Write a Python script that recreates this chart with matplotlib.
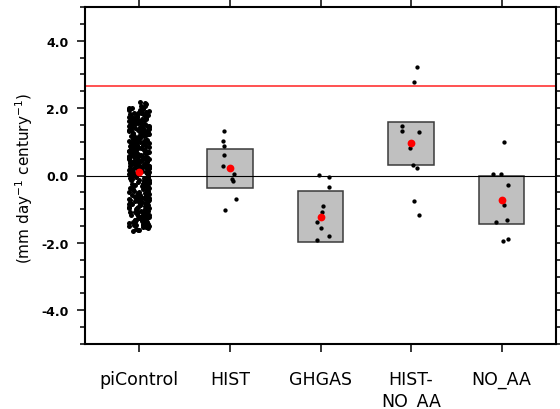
import numpy as np
import matplotlib
matplotlib.use('Agg')
import matplotlib.pyplot as plt
from matplotlib.ticker import MultipleLocator, FormatStrFormatter

plt.rcParams['font.family'] = ['DejaVu Sans']
plt.rcParams['mathtext.default'] = 'regular'

# категорії
labels = ['piControl', 'HIST', 'GHGAS', 'HIST-\nNO_AA', 'NO_AA']

# тренди piControl (щільна хмара точок)
pic_y = [
    0.12, -0.85, 1.43, 0.57, -1.21, 1.96, -0.33, 0.84, 1.12, -0.62, 0.29, -1.48, 1.71, 0.03, -0.18, 0.95, 1.58, -1.02, 0.41, -0.74, 1.27, 2.05, -0.49, 0.66, -1.33,
    0.78, -0.07, 1.36, -1.57, 0.21, 1.84, -0.91, 0.49, -0.26, 1.05, -1.16, 0.37, 1.62, -0.58, 0.92, -1.39, 0.14, 1.19, -0.81, 0.63, 2.18, -0.41, 1.48, -1.08, 0.08,
    -0.66, 1.31, 0.26, -1.27, 0.71, 1.89, -0.13, 0.99, -0.95, 0.44, 1.67, -1.44, 0.17, -0.37, 1.22, 0.54, -0.71, 1.77, -1.12, 0.87, -0.23, 1.41, -1.61, 0.33, 1.08,
    0.47, -1.05, 1.14, -0.29, 1.93, 0.06, -0.78, 1.52, -1.36, 0.69, 0.22, -0.54, 1.29, -0.99, 0.81, 1.74, -0.16, 0.38, -1.23, 1.01, 2.11, -0.45, 0.59, -0.87, 1.38,
    -0.09, 0.93, -1.51, 1.59, 0.31, -0.68, 1.17, -0.34, 0.74, -1.19, 1.86, 0.11, -0.83, 1.44, 0.52, -1.31, 0.27, 1.69, -0.52, 0.89, -1.06, 1.24, 0.01, -0.39, 1.99,
    0.64, -1.41, 1.09, -0.19, 0.36, 1.53, -0.97, 0.77, -0.61, 1.33, -1.25, 0.19, 1.81, -0.44, 0.97, -1.14, 0.43, 1.64, -0.03, -0.76, 1.21, 0.58, -1.54, 0.86, 1.46,
    -0.31, 1.02, 0.24, -1.09, 1.79, -0.56, 0.51, 1.35, -0.89, 0.09, 1.56, -1.29, 0.72, -0.21, 1.11, 0.34, -0.72, 1.91, -1.46, 0.61, -0.11, 1.26, 0.83, -1.01, 0.16,
    1.49, -0.64, 0.39, -1.37, 1.16, 0.04, -0.47, 1.73, 0.68, -1.18, 0.91, -0.27, 1.39, -0.93, 0.28, 2.01, -0.59, 1.06, -1.42, 0.46, 0.79, -0.14, 1.61, -0.79, 0.18,
    -1.22, 0.56, 1.28, -0.36, 0.98, -1.63, 0.13, 1.66, -0.69, 0.42, -0.04, 1.87, -1.11, 0.73, 1.23, -0.51, 0.32, -0.86, 1.51, 0.07, -1.32, 1.04, 0.62, -0.24, 1.76,
    0.23, -0.96, 1.42, 0.67, -0.42, 1.13, -1.26, 0.48, 1.83, -0.12, 0.88, -0.73, 1.32, -1.49, 0.15, 0.94, -0.32, 1.57, -1.03, 0.53, 2.14, -0.63, 0.29, 1.18, -0.88,
    0.82, -0.17, 1.63, -1.34, 0.44, -0.53, 1.07, 0.26, -0.82, 1.47, -1.13, 0.61, 1.94, -0.38, 0.05, 1.25, -1.47, 0.76, -0.07, 1.39, -0.67, 0.35, 1.71, -1.20, 0.97,
    -0.46, 0.18, 1.54, -0.92, 0.71, -1.58, 1.19, 0.40, -0.22, 1.85, -0.77, 0.57, 1.03, -1.07, 0.11, 1.68, -0.57, 0.85, -1.38, 0.49, 1.36, -0.28, 0.02, 2.07, -1.66,
    0.35, -1.19, 0.96, -0.06, 1.65, -0.71, 0.55, 1.22, -1.43, 0.13, 1.88, -0.35, 0.75, -0.98, 1.45, 0.27, -0.55, 1.10, -1.24, 0.62, 1.78, -0.15, 0.91, -0.84, 0.44,
    1.34, -0.49, 0.08, -1.52, 1.01, 0.69, -0.25, 1.55, -0.90, 0.38, 1.97, -1.09, 0.20, -0.65, 1.30, 0.81, -1.30, 0.50, -0.02, 1.69, -0.78, 0.99, -1.40, 0.31, 1.16,
]
pic_dx = [
    0.03, -0.08, 0.11, -0.02, 0.06, -0.11, 0.09, -0.05, 0.01, 0.07, -0.10, 0.04, -0.06, 0.10, -0.01, 0.05, -0.09, 0.08, -0.03, 0.11, -0.07, 0.02, -0.11, 0.06, -0.04,
    -0.09, 0.05, -0.01, 0.10, -0.06, 0.02, 0.08, -0.11, 0.04, -0.03, 0.11, -0.08, 0.00, 0.07, -0.05, 0.09, -0.10, 0.03, 0.06, -0.02, 0.01, -0.07, 0.11, -0.04, 0.08,
    0.06, -0.11, 0.02, 0.09, -0.04, 0.07, -0.09, 0.01, 0.11, -0.06, 0.03, 0.10, -0.02, -0.08, 0.05, -0.11, 0.08, -0.03, 0.04, -0.10, 0.11, -0.05, 0.00, 0.07, -0.07,
    -0.03, 0.10, -0.07, 0.04, -0.11, 0.08, 0.01, -0.05, 0.06, -0.09, 0.11, -0.01, 0.09, -0.04, 0.02, -0.11, 0.05, -0.08, 0.11, -0.02, 0.07, -0.06, 0.03, 0.10, -0.10,
    0.08, -0.04, 0.11, -0.09, 0.00, 0.05, -0.06, 0.10, -0.11, 0.03, -0.01, 0.07, -0.10, 0.01, 0.09, -0.05, 0.11, -0.03, 0.06, -0.08, 0.02, 0.10, -0.07, 0.04, -0.11,
    -0.06, 0.09, -0.02, 0.11, -0.08, 0.03, -0.11, 0.06, -0.04, 0.08, 0.00, -0.10, 0.05, -0.07, 0.11, -0.03, 0.02, -0.09, 0.10, -0.05, 0.07, -0.11, 0.04, -0.01, 0.09,
    0.04, -0.11, 0.07, -0.05, 0.10, -0.02, 0.06, -0.09, 0.01, 0.11, -0.07, 0.03, -0.11, 0.08, -0.03, 0.05, -0.10, 0.11, -0.06, 0.02, -0.08, 0.09, -0.01, 0.06, -0.11,
    -0.10, 0.02, 0.08, -0.07, 0.05, -0.11, 0.10, -0.03, 0.07, -0.09, 0.04, -0.05, 0.11, -0.01, 0.06, -0.08, 0.01, 0.09, -0.11, 0.03, -0.04, 0.11, -0.06, 0.00, 0.10,
    0.01, -0.06, 0.10, -0.10, 0.07, -0.01, -0.08, 0.05, -0.11, 0.09, -0.04, 0.02, 0.08, -0.07, 0.11, -0.02, 0.06, -0.11, 0.03, 0.10, -0.05, 0.07, -0.09, 0.04, -0.03,
    0.11, -0.03, 0.04, -0.08, 0.09, -0.06, 0.02, 0.11, -0.10, 0.00, 0.07, -0.04, 0.05, -0.11, 0.10, -0.07, 0.03, -0.01, 0.08, -0.11, 0.06, -0.02, 0.11, -0.09, 0.01,
    -0.05, 0.07, -0.11, 0.03, -0.02, 0.10, -0.07, 0.04, 0.09, -0.11, 0.06, -0.03, 0.01, 0.11, -0.09, 0.08, -0.04, 0.05, -0.10, 0.02, 0.11, -0.06, 0.07, -0.01, -0.08,
    0.09, -0.01, 0.06, -0.11, 0.11, -0.04, 0.03, -0.09, 0.08, -0.06, 0.10, -0.02, 0.05, -0.10, 0.00, 0.07, -0.08, 0.11, -0.05, 0.04, -0.11, 0.09, -0.03, 0.06, -0.07,
    -0.02, 0.06, -0.09, 0.10, -0.05, 0.01, 0.08, -0.07, 0.04, -0.10, 0.02, 0.09, -0.04, 0.06, -0.08, 0.00, 0.11, -0.06, 0.03, -0.01, -0.09, 0.05, -0.03, 0.08, -0.10,
    0.05, 0.00, -0.06, 0.07, -0.03, 0.10, -0.08, 0.02, 0.06, -0.10, 0.04, -0.01, 0.09, -0.05, 0.01, -0.09, 0.07, -0.02, 0.10, -0.06, 0.03, -0.07, 0.08, -0.04, 0.00,
]

# окремі члени ансамблю
hist_y = [1.31, 1.03, 0.88, 0.60, 0.28, 0.04, -0.09, -0.16, -0.71, -1.01]
hist_dx = [-0.07, -0.08, -0.07, -0.06, -0.08, 0.04, 0.02, 0.03, 0.07, -0.05]
ghg_y = [0.02, -0.04, -0.34, -0.91, -1.09, -1.39, -1.55, -1.81, -1.90]
ghg_dx = [-0.02, 0.09, 0.09, 0.03, 0.02, -0.04, 0.00, 0.09, -0.04]
hna_y = [3.23, 2.76, 1.47, 1.31, 1.28, 0.83, 0.31, 0.22, -0.75, -1.16]
hna_dx = [0.07, 0.03, -0.10, -0.10, 0.09, -0.01, 0.02, 0.06, 0.03, 0.09]
noaa_y = [1.00, 0.05, 0.03, -0.29, -0.87, -1.38, -1.33, -1.93, -1.88]
noaa_dx = [0.03, -0.10, -0.01, 0.07, 0.03, -0.06, 0.06, 0.02, 0.07]

# середні та межі прямокутників
means = [0.11, 0.21, -1.23, 0.95, -0.73]
box_lo = [-0.36, -1.97, 0.31, -1.44]
box_hi = [0.78, -0.47, 1.60, -0.02]
threshold = 2.65

fig = plt.figure(figsize=(5.6, 4.1), dpi=100)
ax = fig.add_axes([85 / 560, 1 - 345 / 410, 471 / 560, 337 / 410])

pos = np.arange(1, 6)
ax.bar(pos[1:], np.array(box_hi) - np.array(box_lo), bottom=box_lo, width=0.5,
       color='#c0c0c0', edgecolor='#3a3a3a', linewidth=1.1, zorder=1)

ax.axhline(0, color='black', lw=0.8, zorder=2)
ax.axhline(threshold, color='#ff3333', lw=1.2, zorder=2)

# хмара piControl трохи крупнішими точками, щоб була суцільною
ax.plot(pos[0] + np.array(pic_dx), pic_y, 'o', color='black', ms=3.6, mew=0, zorder=3)
groups = [(hist_y, hist_dx), (ghg_y, ghg_dx), (hna_y, hna_dx), (noaa_y, noaa_dx)]
for p, (ys, dxs) in zip(pos[1:], groups):
    ax.plot(p + np.array(dxs), ys, 'o', color='black', ms=3.1, mew=0, zorder=3)
ax.plot(pos, means, 'o', color='red', ms=5.6, mew=0, zorder=4)

ax.set_xlim(0.4, 5.6)
ax.set_ylim(-5, 5)
ax.set_xticks(pos)
ax.set_xticklabels(labels, fontsize=12.5, linespacing=1.3)
ax.yaxis.set_major_locator(MultipleLocator(2))
ax.yaxis.set_minor_locator(MultipleLocator(0.5))
ax.yaxis.set_major_formatter(FormatStrFormatter('%.1f'))
for t in ax.get_yticklabels():
    t.set_fontweight('bold')
    t.set_fontsize(9)

ax.tick_params(axis='x', which='major', direction='out', length=5.5, width=1.1,
               top=True, pad=13)
ax.tick_params(axis='y', which='major', direction='out', length=5.8, width=1.1,
               right=True, pad=6)
ax.tick_params(axis='y', which='minor', direction='out', length=3.6, width=1.1,
               right=True)
for s in ax.spines.values():
    s.set_linewidth(1.5)

fig.text(24 / 560, 1 - 178 / 410, '(mm day$^{-1}$ century$^{-1}$)', rotation=90,
         ha='center', va='center', fontsize=11)

fig.savefig('out.png', dpi=100)
